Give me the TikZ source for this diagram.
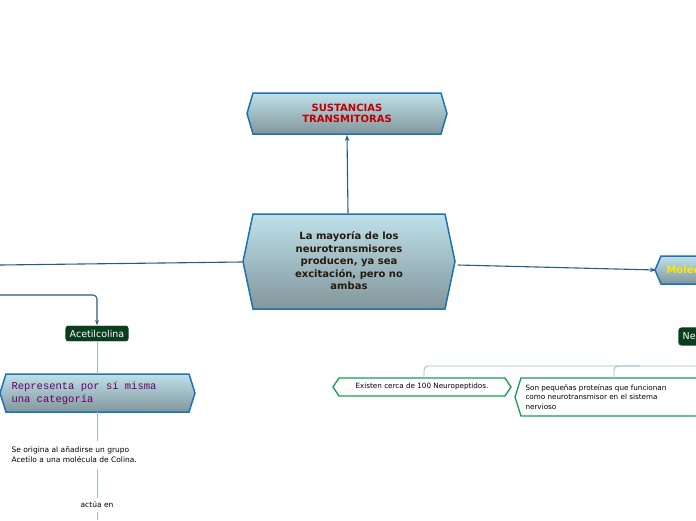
\documentclass[tikz,border=0pt]{standalone}
\usepackage{fontspec}
\setmainfont{DejaVu Sans}
\newfontfamily\monofont{Liberation Mono}
\usetikzlibrary{positioning,arrows.meta}

\definecolor{hexline}{RGB}{30,115,175}
\definecolor{hextop}{RGB}{190,225,235}
\definecolor{hexbot}{RGB}{130,150,155}
\definecolor{leafgreen}{RGB}{10,60,30}
\definecolor{linkblue}{RGB}{40,90,130}
\definecolor{thinline}{RGB}{160,185,200}
\definecolor{subgreen}{RGB}{20,160,80}

\tikzset{
  hexbox/.style={draw=hexline, line width=1.5pt, top color=hextop, bottom color=hexbot},
  subbox/.style={draw=subgreen, line width=1.3pt, fill=white},
  leafbox/.style={fill=leafgreen, draw=white, rounded corners=3pt, text=white, font=\fontsize{9.5}{10}\selectfont, inner sep=4.5pt},
  link/.style={draw=linkblue, line width=1.1pt},
  thin link/.style={draw=thinline, line width=0.9pt},
  plain/.style={font=\fontsize{7.5}{10}\selectfont, align=left}
}

% hexagon with points halfway up the sides
\newcommand{\hexpath}[6]{\path[#1] (#2+#6,#3) -- (#4-#6,#3) -- (#4,#3/2+#5/2) -- (#4-#6,#5) -- (#2+#6,#5) -- (#2,#3/2+#5/2) -- cycle;}

\begin{document}
\begin{tikzpicture}[x=1pt,y=-1pt]
\useasboundingbox (0,0) rectangle (696,520);

% main boxes
\hexpath{hexbox}{247}{93}{447}{134}{6}
\node[text=red!75!black, font=\bfseries\fontsize{10}{11}\selectfont, align=center] (sust) at (347,113.5) {SUSTANCIAS\\TRANSMITORAS};
\hexpath{hexbox}{243}{214}{455}{309}{10}
\node[text=black!80!brown, font=\bfseries\fontsize{10}{12.5}\selectfont, align=center] (mayor) at (349,261) {La mayoría de los\\neurotransmisores\\producen, ya sea\\excitación, pero no\\ambas};
\hexpath{hexbox}{655}{256}{740}{284}{6}
\node[text=yellow!90!orange, font=\bfseries\fontsize{10}{11}\selectfont, anchor=west] (mole) at (663,270) {Moléculas};

\coordinate (topin) at (347,135);
\coordinate (molein) at (656,270);
\coordinate (leftend) at (0,265);
\coordinate (elbow) at (0,295);
\draw[link, -{Stealth[length=6pt]}] (348,213) -- (topin);
\draw[link, -{Stealth[length=6pt]}] (458,265) -- (molein);
\draw[link] (242,262) -- (leftend);

% left branch
\node[leafbox] (acet) at (97,333.5) {Acetilcolina};
\draw[link, rounded corners=4pt, -{Stealth[length=5pt]}] (elbow) -- (97,295) -- (acet.north);
\hexpath{hexbox}{0}{374}{195}{412}{6}
\node[text=violet!80!black, font=\monofont\fontsize{10.5}{13}\selectfont, align=left, anchor=west] (repr) at (8,393) {Representa por sí misma\\una categoría};
\node[plain, anchor=west] (origina) at (8,455) {Se origina al añadirse un grupo\\Acetilo a una molécula de Colina.};
\node[plain] (actua) at (97,505) {actúa en};
\coordinate (bottom) at (97,520);
\draw[thin link] (acet.south) -- (97,374);
\draw[thin link] (97,412) -- (97,441);
\draw[thin link] (97,469) -- (actua.north);
\draw[thin link] (actua.south) -- (bottom);

% right branch
\node[leafbox, anchor=west] (neuro) at (678,336.5) {Neuropéptidos};
\hexpath{subbox}{333}{378}{511}{396}{6}
\node[font=\fontsize{7.2}{9}\selectfont] (existen) at (422,387) {Existen cerca de 100 Neuropeptidos.};
\hexpath{subbox}{515}{378}{760}{416}{6}
\node[font=\fontsize{7.2}{9.5}\selectfont, align=left, anchor=west] (son) at (522,397) {Son pequeñas proteínas que funcionan\\como neurotransmisor en el sistema\\nervioso};
\draw[thin link, rounded corners=4pt] (424,378) -- (424,366) -- (696,366);
\draw[thin link, rounded corners=4pt] (614,378) -- (614,366) -- (640,366);
\end{tikzpicture}
\end{document}
